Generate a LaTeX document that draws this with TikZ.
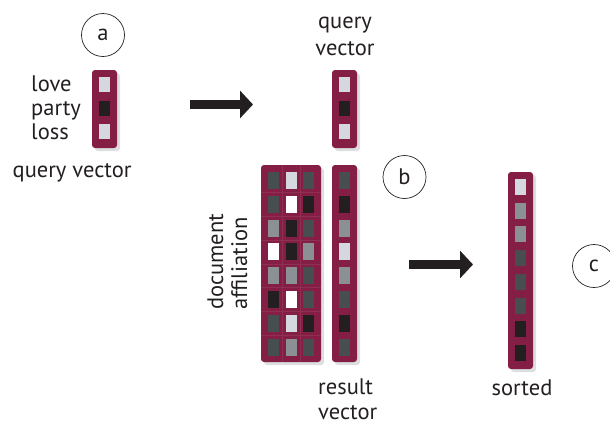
\documentclass[tikz,border=0pt]{standalone}
\usepackage{fontspec}
\setmainfont{PT Sans}
\usetikzlibrary{arrows.meta}

\definecolor{wine}{RGB}{133,30,68}
\definecolor{shadowgray}{RGB}{221,222,224}
\definecolor{cellL}{RGB}{213,216,222}
\definecolor{cellW}{RGB}{255,255,255}
\definecolor{cellM}{RGB}{139,144,148}
\definecolor{cellD}{RGB}{71,78,80}
\definecolor{cellK}{RGB}{35,31,32}
\definecolor{ink}{RGB}{35,31,32}

% one column of cells: left x, top y, pitch, cell height, colour list
\newcommand\drawcells[5]{%
  \foreach \c [count=\i from 0] in {#5}
    \fill[fill=cell\c] (#1,{#2+#3*\i}) rectangle ++(11,#4);%
}

\begin{document}
\begin{tikzpicture}[x=1pt,y=-1pt,
  bar/.style={fill=wine, rounded corners=3pt},
  barshadow/.style={fill=shadowgray, rounded corners=3pt},
  seam/.style={draw=wine!92!white, line width=0.4pt},
  tag/.style={circle, draw=ink, line width=0.7pt, minimum size=43pt,
              inner sep=0pt, text=ink, font=\fontsize{22.5}{24}\selectfont},
  lbl/.style={text=ink, inner sep=0pt, font=\fontsize{22.5}{24}\selectfont},
  fatarrow/.style={draw=ink, line width=9pt,
                   -{Triangle[length=13pt,width=27pt]}}
]
\useasboundingbox (0,0) rectangle (610,424);
\clip (0,0) rectangle (610,424);

% ---------- (a) query vector ----------
\node[tag] (a) at (103,35) {a};
\fill[barshadow] (95,73) rectangle (120,151);
\fill[bar] (92,70) rectangle (117,148);
\drawcells{99}{77}{23.5}{15}{L,K,L}
\node[lbl, anchor=base west] (love)  at (31,91)  {love};
\node[lbl, anchor=base west] (party) at (31,115) {party};
\node[lbl, anchor=base west] (loss)  at (31,139) {loss};
\node[lbl, anchor=base west] (qlabel) at (12.5,177) {query vector};

% arrow to the matching step
\coordinate (s1) at (190,104.5);
\coordinate (e1) at (253,104.5);
\draw[fatarrow] (s1) -- (e1);

% ---------- (b) query vector against the document matrix ----------
% (the base anchor of a two-line node sits on its last line)
\node[lbl, anchor=base, align=center, font=\fontsize{22.5}{27}\selectfont]
  (qtop) at (345,55) {query\\vector};
\fill[barshadow] (335,73) rectangle (360,151);
\fill[bar] (332,70) rectangle (357,148);
\drawcells{339}{77}{23.5}{15}{L,K,L}

\node[tag] (b) at (404.5,177) {b};

% document matrix
\fill[barshadow] (264,168) rectangle (324,365);
\fill[bar] (261,165) rectangle (321,362);
\draw[seam] (282.5,165) -- (282.5,362);
\draw[seam] (300,165) -- (300,362);
\foreach \k in {1,...,7}
  \draw[seam] (261,{168.5+23.8*\k}) -- (321,{168.5+23.8*\k});
\drawcells{268}{172}{23.8}{17}{D,D,M,W,M,K,D,D}
\drawcells{286}{172}{23.8}{17}{L,W,K,K,M,W,L,M}
\drawcells{303}{172}{23.8}{17}{D,K,D,M,D,D,K,D}

% result vector
\fill[barshadow] (335,168) rectangle (360,365);
\fill[bar] (332,165) rectangle (357,362);
\drawcells{339}{172}{23.8}{17}{D,K,M,L,M,D,K,D}

\node[lbl, anchor=base west, rotate=90, align=left,
      font=\fontsize{22.5}{24}\selectfont] (doc) at (247,310) {document\\affiliation};
\node[lbl, anchor=base west, align=left, font=\fontsize{22.5}{25}\selectfont]
  (rlabel) at (318,419) {result\\vector};

% arrow to the sorting step
\coordinate (s2) at (409,264.5);
\coordinate (e2) at (473,264.5);
\draw[fatarrow] (s2) -- (e2);

% ---------- (c) sorted result ----------
\fill[barshadow] (511,175) rectangle (536,372);
\fill[bar] (508,172) rectangle (533,369);
\drawcells{515}{179}{23.7}{16}{L,M,M,D,D,D,K,K}
\node[lbl, anchor=base] (slabel) at (522,395) {sorted};

\node[tag] (c) at (594,266) {c};
\end{tikzpicture}
\end{document}
